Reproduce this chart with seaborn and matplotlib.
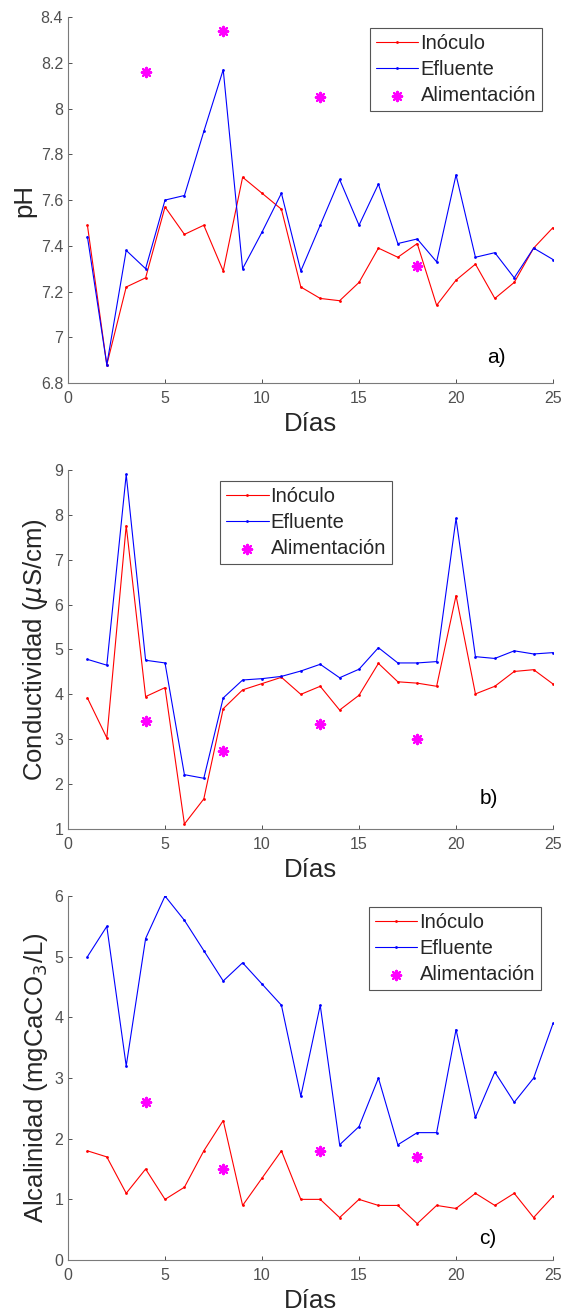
import numpy as np
import pandas as pd
import matplotlib
matplotlib.use("Agg")
import matplotlib.pyplot as plt
import seaborn as sns

# days of the experiment
dias = list(range(1, 26))
dias_alim = [4, 8, 13, 18]

# a) pH
ph_inoculo = [7.49, 6.88, 7.22, 7.26, 7.57, 7.45, 7.49, 7.29, 7.70, 7.63, 7.56, 7.22, 7.17,
              7.16, 7.24, 7.39, 7.35, 7.41, 7.14, 7.25, 7.32, 7.17, 7.24, 7.39, 7.48]
ph_efluente = [7.44, 6.88, 7.38, 7.30, 7.60, 7.62, 7.90, 8.17, 7.30, 7.46, 7.63, 7.29, 7.49,
               7.69, 7.49, 7.67, 7.41, 7.43, 7.33, 7.71, 7.35, 7.37, 7.26, 7.39, 7.34]
ph_alim = [8.16, 8.34, 8.05, 7.31]

# b) conductividad
cond_inoculo = [3.92, 3.03, 7.76, 3.95, 4.15, 1.11, 1.67, 3.68, 4.10, 4.24, 4.38, 4.00, 4.18,
                3.65, 3.98, 4.69, 4.28, 4.25, 4.18, 6.20, 4.01, 4.18, 4.51, 4.55, 4.23]
cond_efluente = [4.78, 4.65, 8.90, 4.76, 4.70, 2.21, 2.13, 3.92, 4.32, 4.35, 4.40, 4.52, 4.67,
                 4.37, 4.56, 5.04, 4.70, 4.70, 4.73, 7.92, 4.84, 4.80, 4.97, 4.90, 4.93]
cond_alim = [3.40, 2.74, 3.35, 3.00]

# c) alcalinidad
alc_inoculo = [1.80, 1.70, 1.10, 1.50, 1.00, 1.20, 1.80, 2.30, 0.90, 1.35, 1.80, 1.00, 1.00,
               0.70, 1.00, 0.90, 0.90, 0.60, 0.90, 0.85, 1.10, 0.90, 1.10, 0.70, 1.05]
alc_efluente = [5.00, 5.50, 3.20, 5.30, 6.00, 5.60, 5.10, 4.60, 4.90, 4.55, 4.20, 2.70, 4.20,
                1.90, 2.20, 3.00, 1.90, 2.10, 2.10, 3.80, 2.35, 3.10, 2.60, 3.00, 3.90]
alc_alim = [2.60, 1.50, 1.80, 1.70]

sns.set_style("ticks")
plt.rcParams['font.family'] = ['Liberation Sans', 'DejaVu Sans']
plt.rcParams['mathtext.fontset'] = 'dejavusans'
plt.rcParams['xtick.direction'] = 'in'
plt.rcParams['ytick.direction'] = 'in'
plt.rcParams['xtick.major.size'] = 3
plt.rcParams['ytick.major.size'] = 3
plt.rcParams['xtick.color'] = '#505050'
plt.rcParams['ytick.color'] = '#505050'
plt.rcParams['axes.edgecolor'] = '#7a7a7a'
plt.rcParams['axes.linewidth'] = 0.8

fig = plt.figure(figsize=(5.63, 13.15), dpi=100)

panels = [
    dict(rect=[0.1208, 0.7087, 0.8615, 0.2783], ini=ph_inoculo, efl=ph_efluente, ali=ph_alim,
         ylim=(6.8, 8.4), yticks=[6.8, 7, 7.2, 7.4, 7.6, 7.8, 8, 8.2, 8.4],
         yticklabels=['6.8', '7', '7.2', '7.4', '7.6', '7.8', '8', '8.2', '8.4'],
         ylabel='pH', tag='a)', tagpos=(22.1, 6.91), leg=(0.977, 0.970)),
    dict(rect=[0.1208, 0.3696, 0.8615, 0.2730], ini=cond_inoculo, efl=cond_efluente, ali=cond_alim,
         ylim=(1, 9), yticks=list(range(1, 10)), yticklabels=[str(v) for v in range(1, 10)],
         ylabel='Conductividad ($\\mu$S/cm)', tag='b)', tagpos=(21.7, 1.67), leg=(0.668, 0.969)),
    dict(rect=[0.1208, 0.0418, 0.8615, 0.2768], ini=alc_inoculo, efl=alc_efluente, ali=alc_alim,
         ylim=(0, 6), yticks=list(range(0, 7)), yticklabels=[str(v) for v in range(0, 7)],
         ylabel='Alcalinidad (mgCaCO$_3$/L)', tag='c)', tagpos=(21.65, 0.36), leg=(0.975, 0.970)),
]

for p in panels:
    ax = fig.add_axes(p['rect'])
    sns.lineplot(x=dias, y=p['ini'], ax=ax, color='#ff0000', lw=0.8, marker='.',
                 markersize=4, markeredgewidth=0, label='Inóculo')
    sns.lineplot(x=dias, y=p['efl'], ax=ax, color='#0000ff', lw=0.8, marker='.',
                 markersize=4, markeredgewidth=0, label='Efluente')
    sns.scatterplot(x=dias_alim, y=p['ali'], ax=ax, color='#ff00ff', marker=(8, 2, 0),
                    s=45, linewidth=1.6, edgecolor='#ff00ff', label='Alimentación', zorder=3)
    ax.set_xlim(0, 25)
    ax.set_xticks([0, 5, 10, 15, 20, 25])
    ax.set_ylim(*p['ylim'])
    ax.set_yticks(p['yticks'])
    ax.set_yticklabels(p['yticklabels'])
    ax.tick_params(labelsize=11.5, width=0.7)
    ax.tick_params(axis='x', pad=6)
    ax.set_xlabel('Días', fontsize=18.5, color='#262626', labelpad=4)
    ax.set_ylabel(p['ylabel'], fontsize=18.5, color='#262626', labelpad=3)
    ax.text(p['tagpos'][0], p['tagpos'][1], p['tag'], fontsize=15, ha='center', va='center',
            color='black')
    sns.despine(ax=ax)
    leg = ax.legend(loc='upper right', bbox_to_anchor=p['leg'], fontsize=14.5, frameon=True,
                    fancybox=False, edgecolor='#555555', framealpha=1, handlelength=2.1,
                    handletextpad=0.1, borderpad=0.3, labelspacing=0.35, borderaxespad=0)
    leg.get_frame().set_linewidth(0.8)

fig.savefig('out.png', dpi=100)
